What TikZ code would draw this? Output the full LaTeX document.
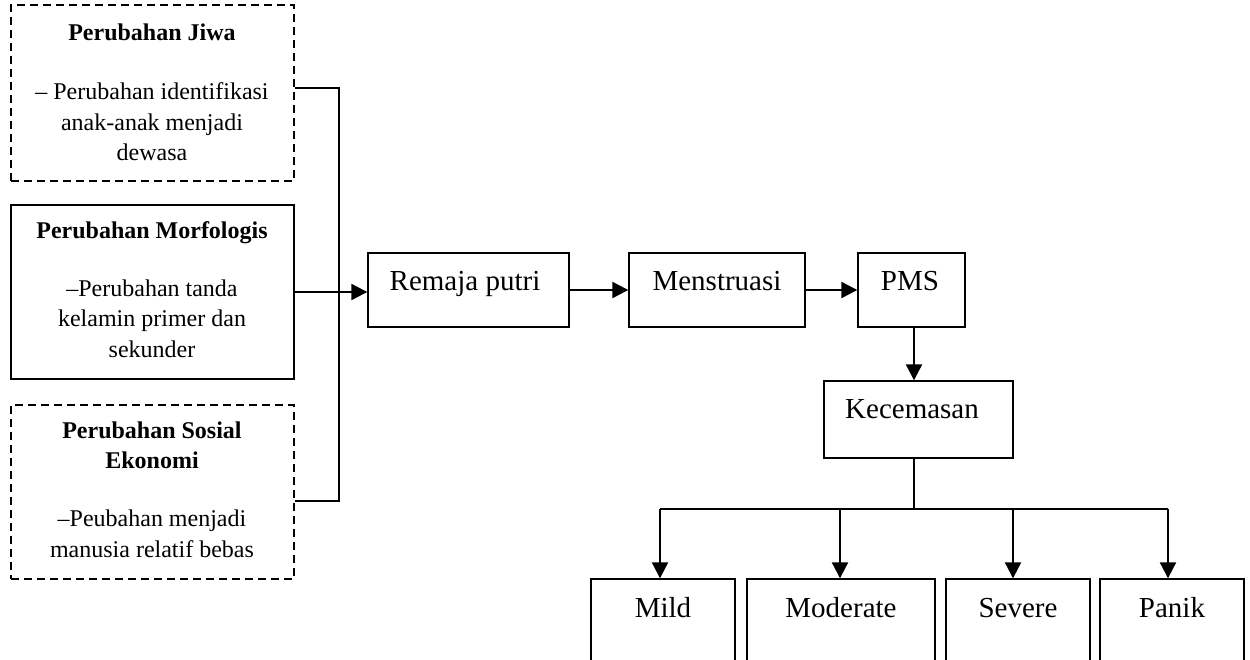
\documentclass[tikz,border=0pt]{standalone}
\usepackage{fontspec}
\setmainfont{Liberation Serif}
\usetikzlibrary{arrows.meta}
\begin{document}
\begin{tikzpicture}[x=1pt,y=-1pt,
 box/.style={draw, line width=1.4pt, inner sep=0pt},
 dbox/.style={box, dash pattern=on 8pt off 5pt},
 big/.style={font=\fontsize{29}{35}\selectfont, inner sep=0pt, anchor=base},
 small/.style={font=\fontsize{24}{30.5}\selectfont, inner sep=0pt, anchor=north, align=center},
 conn/.style={line width=1.8pt},
 arr/.style={line width=2.2pt, -{Triangle[length=16pt,width=16pt]}},
]
\useasboundingbox (0,0) rectangle (1250,659);
\clip (0,0) rectangle (1250,659);

% left boxes
\node[dbox, minimum width=283pt, minimum height=176pt] (jiwa) at (152.5,93) {};
\node[box, minimum width=283pt, minimum height=174pt] (morf) at (152.5,292) {};
\node[dbox, minimum width=283pt, minimum height=174pt] (sos) at (152.5,492) {};
\node[small] (tjiwa) at (152,23.5) {\textbf{Perubahan Jiwa}\\[29pt]– Perubahan identifikasi\\anak-anak menjadi\\dewasa};
\node[small] (tmorf) at (152,221.5) {\textbf{Perubahan Morfologis}\\[27pt]–Perubahan tanda\\kelamin primer dan\\sekunder};
\node[small] (tsos) at (152,421.5) {\textbf{Perubahan Sosial}\\\textbf{Ekonomi}\\[27.5pt]–Peubahan menjadi\\manusia relatif bebas};

% main chain
\node[box, minimum width=201pt, minimum height=74pt] (rp) at (468.5,290) {};
\node[box, minimum width=176pt, minimum height=74pt] (men) at (717,290) {};
\node[box, minimum width=107pt, minimum height=74pt] (pms) at (911.5,290) {};
\node[box, minimum width=189pt, minimum height=77pt] (kec) at (918.5,419.5) {};
\node[big] (trp) at (465,290) {Remaja putri};
\node[big] (tmen) at (717,290) {Menstruasi};
\node[big] (tpms) at (910,290) {PMS};
\node[big] (tkec) at (912,418) {Kecemasan};

% bottom boxes
\node[box, minimum width=144pt, minimum height=120pt] (mild) at (663,639) {};
\node[box, minimum width=188pt, minimum height=120pt] (mod) at (841,639) {};
\node[box, minimum width=144pt, minimum height=120pt] (sev) at (1018,639) {};
\node[box, minimum width=144pt, minimum height=120pt] (pan) at (1172,639) {};
\node[big] (tmild) at (663,617) {Mild};
\node[big] (tmod) at (841,617) {Moderate};
\node[big] (tsev) at (1018,617) {Severe};
\node[big] (tpan) at (1172,617) {Panik};

% connectors
\coordinate (bt) at (339,88);
\coordinate (bb) at (339,501);
\draw[conn] (jiwa.east |- bt) -- (bt) -- (bb) -- (sos.east |- bb);
\draw[arr] (morf.east) -- (rp.west |- morf.east);
\draw[arr] (rp.east) -- (men.west);
\draw[arr] (men.east) -- (pms.west);
\coordinate (px) at (914,0);
\draw[arr] (pms.south -| px) -- (kec.north -| px);
\coordinate (bus) at (914,509);
\coordinate (b1) at (660,509);
\coordinate (b2) at (840,509);
\coordinate (b3) at (1013,509);
\coordinate (b4) at (1168,509);
\draw[conn] (kec.south -| bus) -- (bus);
\draw[conn, line width=2pt] (b1) -- (b4);
\draw[arr] (b1) -- (mild.north -| b1);
\draw[arr] (b2) -- (mod.north -| b2);
\draw[arr] (b3) -- (sev.north -| b3);
\draw[arr] (b4) -- (pan.north -| b4);
\end{tikzpicture}
\end{document}
